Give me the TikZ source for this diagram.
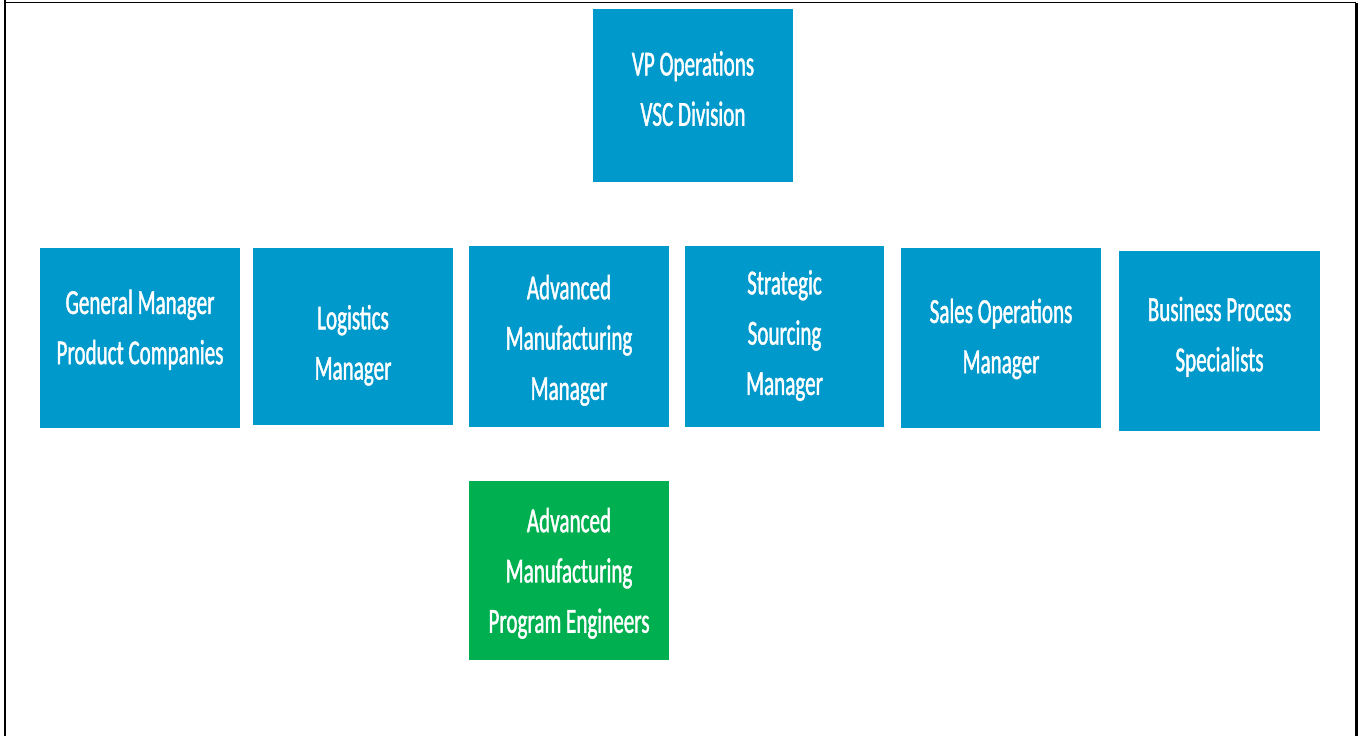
\documentclass[tikz,border=0pt]{standalone}
\usepackage{fontspec}
\setmainfont[FakeStretch=0.6, FakeBold=1.2]{Carlito}
\definecolor{orgblue}{RGB}{0,153,204}
\definecolor{orggreen}{RGB}{0,176,80}
\newcommand{\rolelines}[2][0pt]{\raisebox{#1}[\height][\depth]{\begin{tabular}{@{}c@{}}#2\end{tabular}}}
\begin{document}
\begin{tikzpicture}[
    role/.style = {fill = orgblue, draw = none, text = white,
                   minimum width = 4cm, inner sep = 0pt,
                   font = \fontsize{20}{28.6}\selectfont},
    team/.style = {role, fill = orggreen}
  ]
      \useasboundingbox (0, 0) rectangle (27.16, -14.72);

      % frame
      \draw [line width = 1.7pt] (0.1, 0) -- (0.1, -14.72);
      \draw [line width = 0.9pt] (0.1, -0.05) -- (27.12, -0.05);
      \draw [line width = 1.7pt] (27.12, -0.05) -- (27.12, -14.72);

      % top
      \node [role, minimum height = 3.46cm] (vp) at (13.86, -1.91) {\rolelines[2.8pt]{VP Operations\\VSC Division}};

      % direct reports
      \node [role, minimum height = 3.6cm] (gm) at (2.8, -6.76) {\rolelines[5.1pt]{General Manager\\Product Companies}};
      \node [role, minimum height = 3.54cm] (log) at (7.06, -6.73) {\rolelines[-4.5pt]{Logistics\\Manager}};
      \node [role, minimum height = 3.62cm] (adv) at (11.38, -6.73) {\rolelines[-1.7pt]{Advanced\\Manufacturing\\Manager}};
      \node [role, minimum height = 3.62cm, minimum width = 3.98cm] (strat) at (15.69, -6.73) {\rolelines[1.1pt]{Strategic\\Sourcing\\Manager}};
      \node [role, minimum height = 3.6cm] (sales) at (20.02, -6.76) {\rolelines{Sales Operations\\Manager}};
      \node [role, minimum height = 3.6cm, minimum width = 4.02cm] (bps) at (24.39, -6.82) {\rolelines[2.8pt]{Business Process\\Specialists}};

      % team
      \node [team, minimum height = 3.58cm] (eng) at (11.38, -11.41) {\rolelines[-1.1pt]{Advanced\\Manufacturing\\Program Engineers}};
    \end{tikzpicture}
\end{document}
